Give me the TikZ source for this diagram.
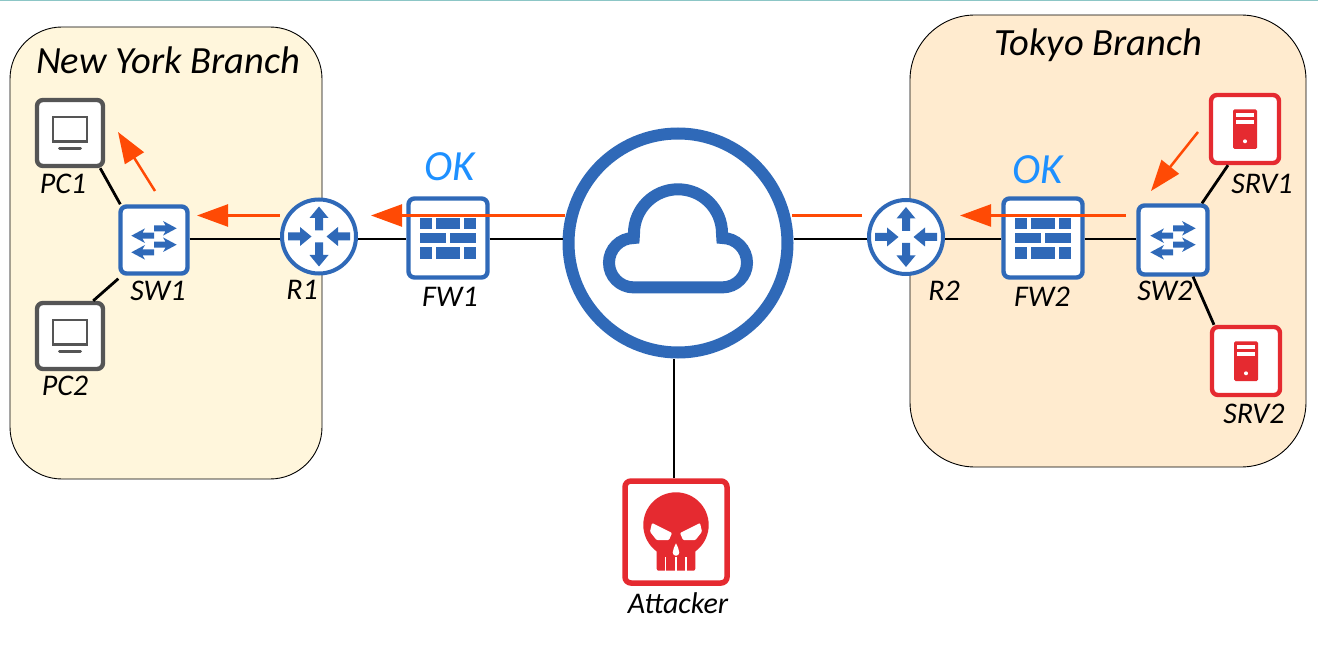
\documentclass[tikz,border=0pt]{standalone}
\usepackage{fontspec}
\setmainfont{Carlito}
\usetikzlibrary{arrows.meta}
\definecolor{netblue}{HTML}{2F69B8}
\definecolor{devgray}{HTML}{555555}
\definecolor{srvred}{HTML}{E52A30}
\definecolor{flow}{HTML}{FF4A05}
\definecolor{okblue}{HTML}{1E90FF}
\definecolor{nybg}{HTML}{FFF6DC}
\definecolor{tkbg}{HTML}{FFEBCF}
\tikzset{
  box/.style={rectangle, draw, fill=white, line width=4.4pt, rounded corners=6pt, minimum size=#1, inner sep=0pt},
  round/.style={circle, draw=netblue, fill=white, inner sep=0pt, minimum size=#1},
  txt/.style={inner sep=0pt, font=\itshape\fontsize{30}{34}\selectfont},
  title/.style={inner sep=0pt, font=\itshape\fontsize{38.5}{42}\selectfont},
  okay/.style={inner sep=0pt, text=okblue, font=\itshape\fontsize{43}{46}\selectfont},
  link/.style={line width=2.8pt},
  panel/.style={draw, line width=.9pt},
  routerico/.pic={
    \begin{scope}[y=1pt]
      \foreach \a in {90,270}
        \fill[netblue, rotate=\a] (6,-4) -- (18.5,-4) -- (18.5,-9.5) -- (30,0) -- (18.5,9.5) -- (18.5,4) -- (6,4) -- cycle;
      \foreach \a in {0,180}
        \fill[netblue, rotate=\a] (31,-4) -- (19,-4) -- (19,-9.5) -- (7.5,0) -- (19,9.5) -- (19,4) -- (31,4) -- cycle;
    \end{scope}
  },
  switchico/.pic={
    \begin{scope}[y=1pt]
      \foreach \yy in {11.7,-4.7}
        \fill[netblue, shift={(0,\yy)}] (0,-3) -- (11.5,-3) -- (9,-7.3) -- (22.7,0) -- (9,7.3) -- (11.5,3) -- (0,3) -- cycle;
      \foreach \yy in {4.3,-12.3}
        \fill[netblue, shift={(0,\yy)}] (0,-3) -- (-11.5,-3) -- (-9,-7.3) -- (-22.7,0) -- (-9,7.3) -- (-11.5,3) -- (0,3) -- cycle;
    \end{scope}
  },
  wallico/.pic={
    \begin{scope}[y=1pt]
      \foreach \xa/\xb/\ya/\yb in {
        -28/-15.7/20/8.7, -12/12.3/20/8.7, 16/28/20/8.7,
        -28/-1.7/5.3/-5, 2/28/5.3/-5,
        -28/-15.7/-8.7/-20.7, -12/12.3/-8.7/-20.7, 16/28/-8.7/-20.7%
      } {
        \fill[netblue] (\xa,\ya) rectangle (\xb,\yb);
      }
    \end{scope}
  },
  cloudico/.pic={
    \begin{scope}[y=1pt]
      \draw[netblue, line width=12pt] (-44.3,-44.4) arc[start angle=270, end angle=90, radius=24.7]
        -- (-44,9.7) arc[start angle=180, end angle=0, radius=44]
        -- (44.3,5) arc[start angle=90, end angle=-90, radius=24.7] -- cycle;
    \end{scope}
  },
  pcico/.pic={
    \begin{scope}[y=1pt]
      \draw[devgray, line width=2.5pt] (-17.2,-8.3) rectangle (17.2,16);
      \draw[devgray, line width=3pt, line cap=round] (-10.5,-15.7) -- (10.5,-15.7);
    \end{scope}
  },
  srvico/.pic={
    \begin{scope}[y=1pt]
      \fill[srvred, rounded corners=1.5pt] (-12,-20) rectangle (12,19.7);
      \fill[white] (-8.7,12.3) rectangle (8.7,15.7);
      \fill[white] (-8.7,5.3) rectangle (8.7,9);
      \fill[white] (0,-12.3) circle (2);
    \end{scope}
  },
  skullico/.pic={
    \begin{scope}[y=1pt]
      \fill[srvred] (0,7) circle (32.7);
      \fill[srvred, rounded corners=2pt] (-19.3,-12) rectangle (19.3,-38.7);
      \foreach \xx in {-10.3,0,10}
        \fill[white] (\xx-.7,-25.3) rectangle (\xx+.7,-39);
      \foreach \s in {1,-1}
        \fill[white, rounded corners=1pt, xscale=\s] (-24,9) -- (-4,-1) -- (-7,-8) -- (-19.5,-8) -- (-26,.3) -- cycle;
      \fill[white] (0,-11.3) .. controls (1,-14) and (3.3,-17) .. (3.3,-20.5) arc[start angle=0, end angle=-180, radius=3.3] .. controls (-3.3,-17) and (-1,-14) .. (0,-11.3) -- cycle;
    \end{scope}
  }
}
\begin{document}
\begin{tikzpicture}[x=1pt,y=-1pt]
  \useasboundingbox (0,0) rectangle (1318,671);
  \fill[teal!45] (0,0) rectangle (1318,1.2);

  % branches
  \filldraw[panel, fill=nybg, rounded corners=52pt] (10,27) rectangle (322,479);
  \filldraw[panel, fill=tkbg, rounded corners=65pt] (910,15) rectangle (1306,467);

  % devices
  \foreach \x/\y/\lab/\col/\sz in {
    70/133/PC1/devgray/66pt,
    70/336/PC2/devgray/66pt,
    154/240/SW1/netblue/67pt,
    448/238/FW1/netblue/79pt,
    1043/238/FW2/netblue/79pt,
    1173/240/SW2/netblue/69pt,
    1245/129/SRV1/srvred/68pt,
    1246/361/SRV2/srvred/68pt%
  } {
    \node[box=\sz, draw=\col] (\lab) at (\x, \y) {};
  }
  \node[box=102pt, draw=srvred, line width=5.5pt] (ATK) at (676, 532) {};
  \node[round=74pt, line width=4pt] (R1) at (319, 236.5) {};
  \node[round=74pt, line width=4pt] (R2) at (906, 237) {};
  \node[round=219pt, line width=12pt] (NET) at (678, 243) {};

  % links
  \coordinate (wan) at (0,239);
  \foreach \u/\v in {
    SW1.east/R1.west,
    R1.east/FW1.west,
    FW1.east/NET.west,
    NET.east/R2.west,
    R2.east/FW2.west,
    FW2.east/SW2.west%
  }{
    \draw[link] (\u |- wan) -- (\v |- wan);
  }
  \draw[link] ([xshift=-2pt]ATK.north) -- ([xshift=-2pt]ATK.north |- NET.south);
  \draw[link] ([xshift=-5pt]PC1.south east) -- ([xshift=2pt]SW1.north west);
  \draw[link] ([xshift=-12pt]PC2.north east) -- ([yshift=-3pt]SW1.south west);
  \draw[link] ([xshift=-17pt]SRV1.south) -- ([xshift=29pt]SW2.north);
  \draw[link] ([xshift=20pt]SW2.south) -- ([xshift=-32pt]SRV2.north);

  % icons
  \pic at (PC1) {pcico};
  \pic at (PC2) {pcico};
  \pic at (SW1) {switchico};
  \pic at (SW2) {switchico};
  \pic at (R1) {routerico};
  \pic at (R2) {routerico};
  \pic at (FW1) {wallico};
  \pic at (FW2) {wallico};
  \pic at (SRV1) {srvico};
  \pic at (SRV2) {srvico};
  \pic at (NET) {cloudico};
  \pic at (ATK) {skullico};

  % labels
  \node[title] (nyname) at (168,60) {New York Branch};
  \node[title] (tkname) at (1098,45) {Tokyo Branch};
  \node[okay] (ok1) at (450,167) {OK};
  \node[okay] (ok2) at (1038,170) {OK};
  \foreach \x/\y/\lab in {
    63/184/PC1,
    65/386/PC2,
    158/291/SW1,
    302/290/R1,
    450/297/FW1,
    944/291/R2,
    1042/297/FW2,
    1165/291/SW2,
    1262/184/SRV1,
    1254/414/SRV2,
    678/603/Attacker%
  } {
    \node[txt] (t\lab) at (\x, \y) {\lab};
  }

  % flows
  \coordinate (f1) at (155,191);
  \coordinate (f2) at (118,132);
  \coordinate (f3) at (280,215.5);
  \coordinate (f4) at (197,215.5);
  \coordinate (f5) at (565,215.5);
  \coordinate (f6) at (371,215.5);
  \coordinate (f7) at (1126,215.5);
  \coordinate (f8) at (960,215.5);
  \coordinate (f9) at (1198,132);
  \coordinate (f10) at (1151,191);
  \coordinate (f11) at (862,215.5);
  \coordinate (f12) at (792,215.5);
  \foreach \u/\v in {f1/f2, f3/f4, f5/f6, f7/f8, f9/f10}{
    \draw[flow, line width=2.5pt, -{Triangle[length=31pt, width=22pt]}] (\u) -- (\v);
  }
  \draw[flow, line width=2.5pt] (f11) -- (f12);
\end{tikzpicture}
\end{document}
